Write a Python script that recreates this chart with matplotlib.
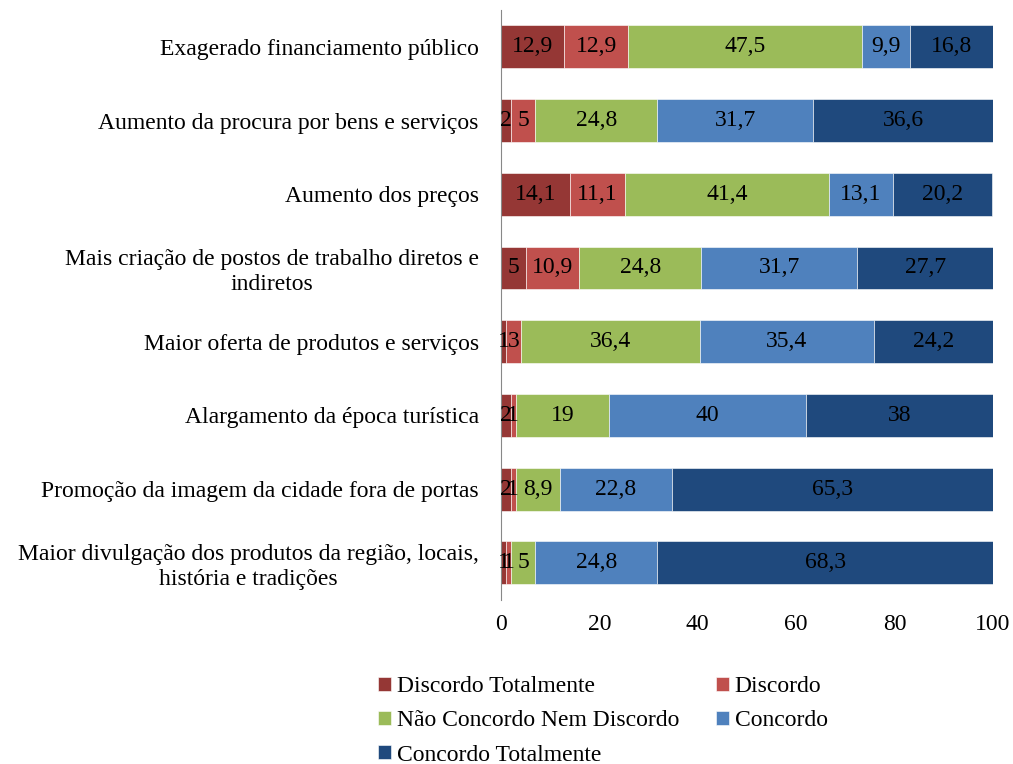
import matplotlib.pyplot as plt
import numpy as np

plt.rcParams['font.family'] = ['Liberation Serif', 'DejaVu Serif']

# Categorias (de cima para baixo)
categorias = [
    "Exagerado financiamento público",
    "Aumento da procura por bens e serviços",
    "Aumento dos preços",
    "Mais criação de postos de trabalho diretos e\nindiretos",
    "Maior oferta de produtos e serviços",
    "Alargamento da época turística",
    "Promoção da imagem da cidade fora de portas",
    "Maior divulgação dos produtos da região, locais,\nhistória e tradições",
]

discordo_totalmente = [12.9, 2, 14.1, 5, 1, 2, 2, 1]
discordo = [12.9, 5, 11.1, 10.9, 3, 1, 1, 1]
nem_nem = [47.5, 24.8, 41.4, 24.8, 36.4, 19, 8.9, 5]
concordo = [9.9, 31.7, 13.1, 31.7, 35.4, 40, 22.8, 24.8]
concordo_totalmente = [16.8, 36.6, 20.2, 27.7, 24.2, 38, 65.3, 68.3]

series = [
    ("Discordo Totalmente", discordo_totalmente, "#953735"),
    ("Discordo", discordo, "#C0504D"),
    ("Não Concordo Nem Discordo", nem_nem, "#9BBB59"),
    ("Concordo", concordo, "#4F81BD"),
    ("Concordo Totalmente", concordo_totalmente, "#1F497D"),
]

fs = 17

fig = plt.figure(figsize=(10.13, 7.64), dpi=100)
ax = fig.add_axes([0.4946, 0.215, 0.4856, 0.772])

y = np.arange(len(categorias))[::-1]
esquerda = np.zeros(len(categorias))
barras = {}
for nome, valores, cor in series:
    valores = np.array(valores, dtype=float)
    b = ax.barh(y, valores, left=esquerda, height=0.58, color=cor,
                edgecolor='white', linewidth=0.4, label=nome)
    barras[nome] = b
    for yi, xi, v in zip(y, esquerda, valores):
        txt = ('%g' % v).replace('.', ',')
        ax.text(xi + v / 2, yi, txt, ha='center', va='center',
                fontsize=fs, color='black')
    esquerda += valores

ax.set_xlim(0, 100)
ax.set_ylim(-0.5, len(categorias) - 0.5)
ax.set_xticks(np.arange(0, 101, 20))
ax.set_yticks(y)
ax.set_yticklabels(categorias, multialignment='center')
ax.tick_params(axis='both', length=0, labelsize=fs)
ax.tick_params(axis='y', pad=16)
ax.tick_params(axis='x', pad=10)
for lado in ['top', 'right', 'bottom']:
    ax.spines[lado].set_visible(False)
ax.spines['left'].set_color('#888888')

# Legenda (ordem por colunas)
ordem = ["Discordo Totalmente", "Não Concordo Nem Discordo", "Concordo Totalmente",
         "Discordo", "Concordo"]
fig.legend([barras[n] for n in ordem], ordem, ncol=2, loc='lower left',
           bbox_to_anchor=(0.352, -0.03), frameon=False, fontsize=fs,
           handlelength=0.55, handleheight=0.55, handletextpad=0.25,
           columnspacing=1.55, labelspacing=0.56)

fig.savefig("out.png", dpi=100)
